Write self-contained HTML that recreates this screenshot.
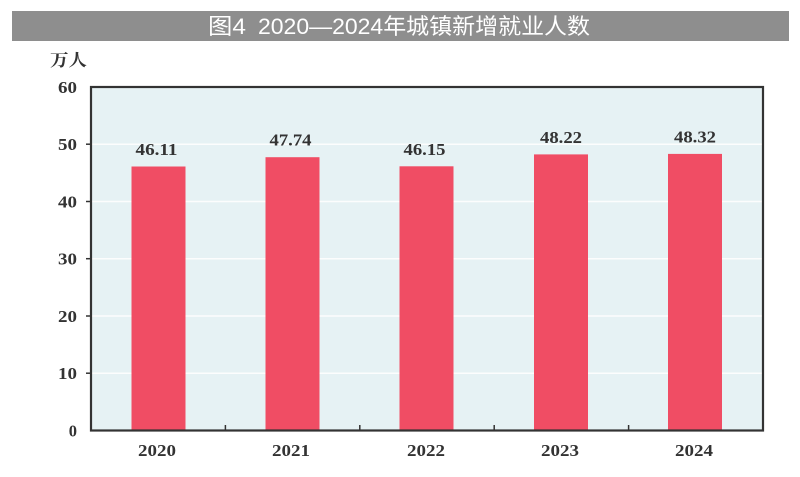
<!DOCTYPE html>
<html><head><meta charset="utf-8"><style>
html,body{margin:0;padding:0;background:#fff;}
svg{display:block;}
</style></head><body>
<svg width="800" height="477" viewBox="0 0 800 477" xmlns="http://www.w3.org/2000/svg">
<rect x="0" y="0" width="800" height="477" fill="#fff"/>
<rect x="12" y="11" width="777" height="30" fill="#8e8e8e"/>
<text x="208" y="34" font-family="'Liberation Sans','Noto Sans CJK SC',sans-serif" font-size="22" fill="#fff" textLength="38" lengthAdjust="spacingAndGlyphs">图4</text>
<text x="258" y="34" font-family="'Liberation Sans','Noto Sans CJK SC',sans-serif" font-size="22" fill="#fff" textLength="332" lengthAdjust="spacingAndGlyphs">2020—2024年城镇新增就业人数</text>
<text x="50" y="66" font-family="'Liberation Serif','Noto Serif CJK SC',serif" font-size="17" font-weight="bold" fill="#333" textLength="37" lengthAdjust="spacingAndGlyphs">万人</text>
<rect x="91" y="87" width="672" height="343.5" fill="#e6f2f4"/>
<g stroke="#ffffff" stroke-width="1.5" opacity="0.9">
<line x1="91" y1="144.2" x2="763" y2="144.2"/>
<line x1="91" y1="201.5" x2="763" y2="201.5"/>
<line x1="91" y1="258.7" x2="763" y2="258.7"/>
<line x1="91" y1="316" x2="763" y2="316"/>
<line x1="91" y1="373.2" x2="763" y2="373.2"/>
</g>
<g fill="#f04d64">
<rect x="131.5" y="166.5" width="54" height="264"/>
<rect x="265.5" y="157.2" width="54" height="273.3"/>
<rect x="399.5" y="166.3" width="54" height="264.2"/>
<rect x="534" y="154.4" width="54" height="276.1"/>
<rect x="668" y="153.9" width="54" height="276.6"/>
</g>
<g stroke="#333" stroke-width="1.5">
<line x1="225.4" y1="430" x2="225.4" y2="425"/>
<line x1="359.8" y1="430" x2="359.8" y2="425"/>
<line x1="494.2" y1="430" x2="494.2" y2="425"/>
<line x1="628.6" y1="430" x2="628.6" y2="425"/>
<line x1="86" y1="144.2" x2="91" y2="144.2"/>
<line x1="86" y1="201.5" x2="91" y2="201.5"/>
<line x1="86" y1="258.7" x2="91" y2="258.7"/>
<line x1="86" y1="316" x2="91" y2="316"/>
<line x1="86" y1="373.2" x2="91" y2="373.2"/>
</g>
<rect x="91" y="87" width="672" height="343.5" fill="none" stroke="#333" stroke-width="2.2"/>
<g font-family="'Liberation Serif',serif" font-size="16.5" font-weight="bold" fill="#333" text-anchor="end">
<text x="77" y="93" textLength="19" lengthAdjust="spacingAndGlyphs">60</text>
<text x="77" y="150" textLength="19" lengthAdjust="spacingAndGlyphs">50</text>
<text x="77" y="207.3" textLength="19" lengthAdjust="spacingAndGlyphs">40</text>
<text x="77" y="264.5" textLength="19" lengthAdjust="spacingAndGlyphs">30</text>
<text x="77" y="321.8" textLength="19" lengthAdjust="spacingAndGlyphs">20</text>
<text x="77" y="379" textLength="19" lengthAdjust="spacingAndGlyphs">10</text>
<text x="77" y="436.3">0</text>
</g>
<g font-family="'Liberation Serif',serif" font-size="16.5" font-weight="bold" fill="#333" text-anchor="middle">
<text x="156.5" y="155" textLength="42" lengthAdjust="spacingAndGlyphs">46.11</text>
<text x="290.5" y="145.7" textLength="42" lengthAdjust="spacingAndGlyphs">47.74</text>
<text x="424.5" y="154.8" textLength="42" lengthAdjust="spacingAndGlyphs">46.15</text>
<text x="561" y="142.9" textLength="42" lengthAdjust="spacingAndGlyphs">48.22</text>
<text x="695" y="142.4" textLength="42" lengthAdjust="spacingAndGlyphs">48.32</text>
<text x="157" y="456" textLength="38" lengthAdjust="spacingAndGlyphs">2020</text>
<text x="291" y="456" textLength="38" lengthAdjust="spacingAndGlyphs">2021</text>
<text x="426" y="456" textLength="38" lengthAdjust="spacingAndGlyphs">2022</text>
<text x="560" y="456" textLength="38" lengthAdjust="spacingAndGlyphs">2023</text>
<text x="694" y="456" textLength="38" lengthAdjust="spacingAndGlyphs">2024</text>
</g>
</svg>
</body></html>
